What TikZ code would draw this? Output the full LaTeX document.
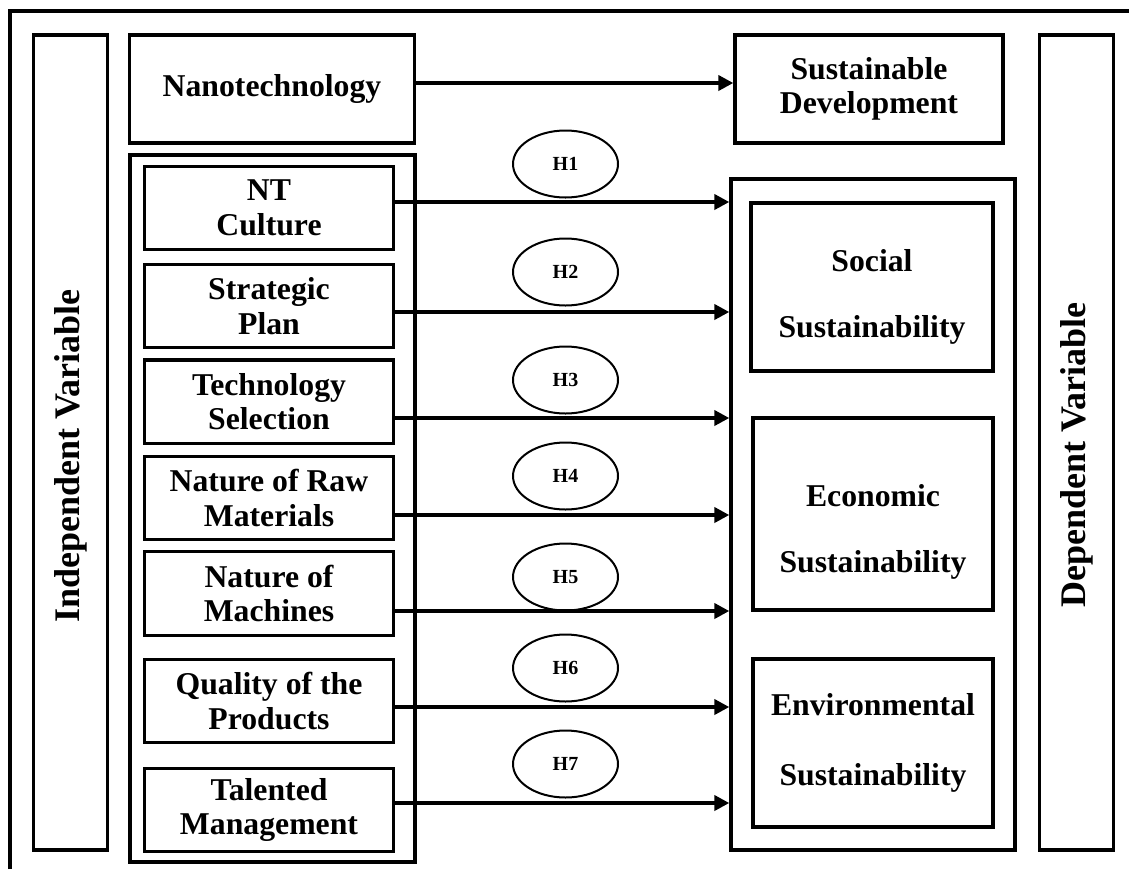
\documentclass[tikz,border=0pt]{standalone}
\usepackage{fontspec}
\setmainfont{Liberation Serif}
\usetikzlibrary{arrows.meta,shapes.geometric}

\begin{document}
\begin{tikzpicture}[
	x=0.75pt, y=-0.75pt,
	every node/.style={font=\fontsize{23.8}{26}\selectfont\bfseries, align=center},
	box/.style={draw, line width=2.5pt, inner sep=0pt},
	varbox/.style={box, minimum width=55.5pt, minimum height=611.25pt},
	vartext/.style={rotate=90, font=\fontsize{27}{30}\selectfont\bfseries},
	factor/.style={box, minimum width=186.4pt, minimum height=62.6pt},
	pillar/.style={box, minimum width=180pt},
	hyp/.style={
		ellipse, draw, line width=1.5pt,
		minimum width=78.75pt, minimum height=50.25pt, inner sep=0pt,
		font=\fontsize{15}{17}\selectfont\bfseries
	},
	link/.style={line width=3pt, -{Triangle[length=11.25pt,width=11.25pt]}}
	]
	\useasboundingbox (0,0) rectangle (1129,869);
	\draw[line width=2.5pt] (10,869) -- (10,11) -- (1129,11);

	\node[varbox] (indep) at (70.5,442.5) {};
	\node[varbox] (depvar) at (1076.5,442.5) {};
	\node[vartext] (indeptext) at (70.5,456) {Independent Variable};
	\node[vartext] (depvartext) at (1076.5,455) {Dependent Variable};

	\node[box, minimum width=213.75pt, minimum height=81pt] (nano) at (272,89) {Nanotechnology};
	\node[box, minimum width=201pt, minimum height=81pt] (susdev) at (869,89) {Sustainable\\Development};
	\draw[link] (nano.east |- 0,83) -- (susdev.west |- 0,83);

	\node[box, minimum width=213.75pt, minimum height=530.25pt] (factors) at (272.5,508.5) {};
	\node[box, minimum width=213pt, minimum height=503.25pt] (outcomes) at (873,514.5) {};

	\foreach \n/\y/\t in {
		cult/208/{NT\\Culture},
		plan/306/{Strategic\\Plan},
		tech/401.7/{Technology\\Selection},
		raw/498/{Nature of Raw\\Materials},
		mach/593.5/{Nature of\\Machines},
		qual/701/{Quality of the\\Products},
		talent/810/{Talented\\Management}}
		\node[factor] (\n) at (269,\y) {\t};

	\node[pillar, minimum width=181.5pt, minimum height=126pt] (social) at (872,287) {};
	\node[pillar, minimum height=144pt] (econ) at (873,514) {};
	\node[pillar, minimum height=126pt] (env) at (873,743) {};
	\node (socialtext) at (872,297) {Social\\[23pt]Sustainability};
	\node (econtext) at (873,532) {Economic\\[23pt]Sustainability};
	\node (envtext) at (873,743) {Environmental\\[26pt]Sustainability};

	\foreach \i/\y in {1/164,2/272,3/380,4/476,5/577,6/668,7/764}
		\node[hyp] (h\i) at (565.5,\y) {H\i};

	\foreach \n/\y in {cult/202,plan/312,tech/418,raw/515,mach/611,qual/707,talent/803}
		\draw[link] (\n.east |- 0,\y) -- (outcomes.west |- 0,\y);
\end{tikzpicture}
\end{document}
